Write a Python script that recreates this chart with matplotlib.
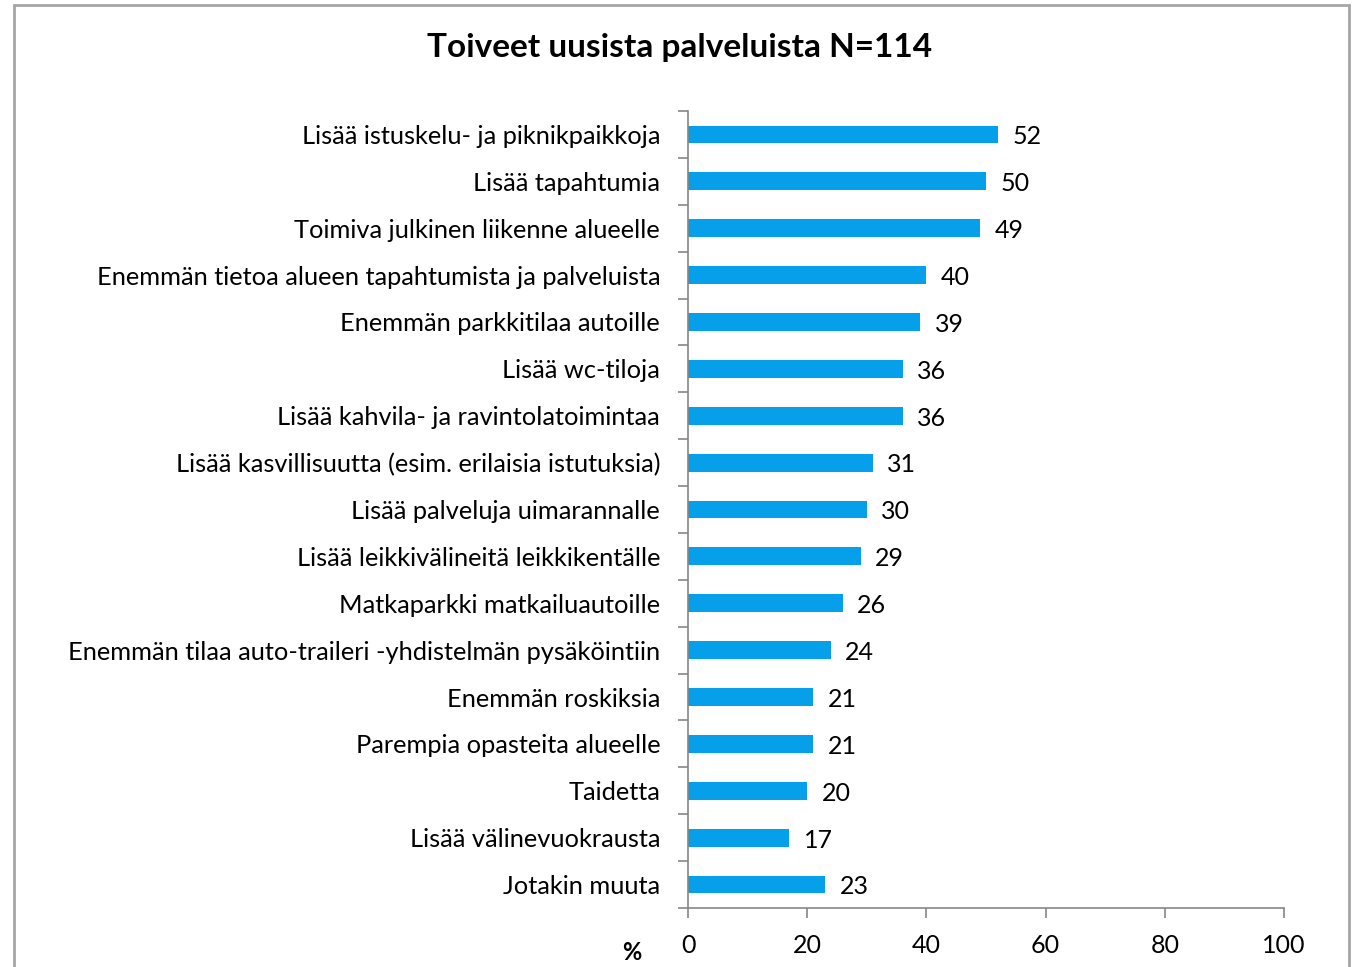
import matplotlib
matplotlib.use("Agg")
import matplotlib.pyplot as plt
from matplotlib.patches import Rectangle
import numpy as np

categories = [
    "Lisää istuskelu- ja piknikpaikkoja",
    "Lisää tapahtumia",
    "Toimiva julkinen liikenne alueelle",
    "Enemmän tietoa alueen tapahtumista ja palveluista",
    "Enemmän parkkitilaa autoille",
    "Lisää wc-tiloja",
    "Lisää kahvila- ja ravintolatoimintaa",
    "Lisää kasvillisuutta (esim. erilaisia istutuksia)",
    "Lisää palveluja uimarannalle",
    "Lisää leikkivälineitä leikkikentälle",
    "Matkaparkki matkailuautoille",
    "Enemmän tilaa auto-traileri -yhdistelmän pysäköintiin",
    "Enemmän roskiksia",
    "Parempia opasteita alueelle",
    "Taidetta",
    "Lisää välinevuokrausta",
    "Jotakin muuta",
]
values = [52, 50, 49, 40, 39, 36, 36, 31, 30, 29, 26, 24, 21, 21, 20, 17, 23]
xticks = [0, 20, 40, 60, 80, 100]
title = "Toiveet uusista palveluista N=114"

plt.rcParams['font.family'] = ['Lato', 'DejaVu Sans']

fig = plt.figure(figsize=(13.55, 9.67), dpi=100)
ax = fig.add_axes([688/1355, 1 - 908/967, (1284-688)/1355, (908-111)/967])

n = len(categories)
y = np.arange(n)
ax.barh(y, values, height=0.38, color="#069FEA")
ax.set_ylim(n - 0.5, -0.5)
ax.set_xlim(0, 100)
ax.set_yticks(y)
ax.set_yticklabels(categories, fontsize=18.3)
ax.set_yticks(np.arange(n + 1) - 0.5, minor=True)
ax.tick_params(axis='y', which='major', length=0, pad=20)
ax.tick_params(axis='y', which='minor', length=7, color="#868686", width=1.2)
ax.set_xticks(xticks)
ax.set_xticklabels([str(t) for t in xticks], fontsize=18)
ax.tick_params(axis='x', length=7, color="#868686", width=1.2, pad=12)

for s in ['top', 'right']:
    ax.spines[s].set_visible(False)
for s in ['left', 'bottom']:
    ax.spines[s].set_color("#868686")
    ax.spines[s].set_linewidth(1.2)

for yi, v in zip(y, values):
    ax.text(v + 2.4, yi + 0.05, str(v), va='center', ha='left', fontsize=18)

fig.text(680/1355, 1 - 48/967, title, ha='center', va='center', fontsize=24, fontweight='bold')
fig.text(632/1355, 1 - 953/967, "%", ha='center', va='center', fontsize=17, fontweight='bold')

fig.patches.append(Rectangle((14/1355, -0.05), (1349-14)/1355, 1.05 - 5/967,
                             transform=fig.transFigure, fill=False,
                             edgecolor="#A6A6A6", linewidth=2))

fig.savefig("out.png", dpi=100)
